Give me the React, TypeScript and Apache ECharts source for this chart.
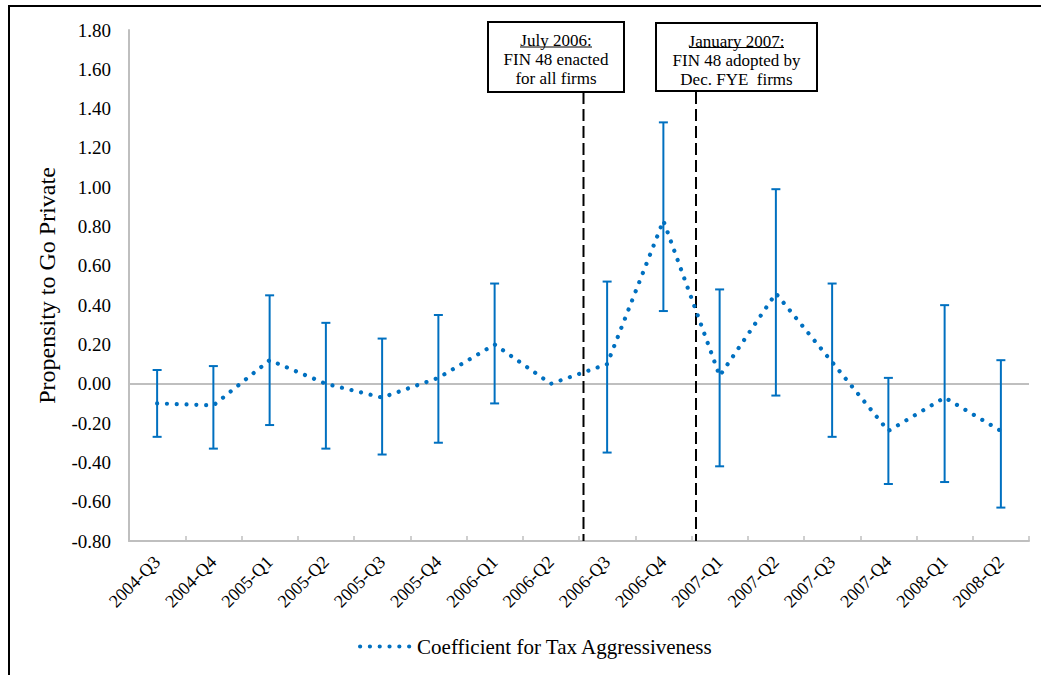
import React, { useEffect, useRef } from "react";
import * as echarts from "echarts";

const quarters = [
  "2004-Q3", "2004-Q4", "2005-Q1", "2005-Q2", "2005-Q3", "2005-Q4",
  "2006-Q1", "2006-Q2", "2006-Q3", "2006-Q4", "2007-Q1", "2007-Q2",
  "2007-Q3", "2007-Q4", "2008-Q1", "2008-Q2",
];
const coefficient = [-0.10, -0.11, 0.12, 0.00, -0.07, 0.03, 0.20, 0.00, 0.10, 0.83, 0.04, 0.46, 0.11, -0.24, -0.07, -0.24];
const upperBound = [0.07, 0.09, 0.45, 0.31, 0.23, 0.35, 0.51, null, 0.52, 1.33, 0.48, 0.99, 0.51, 0.03, 0.40, 0.12];
const lowerBound = [-0.27, -0.33, -0.21, -0.33, -0.36, -0.30, -0.10, null, -0.35, 0.37, -0.42, -0.06, -0.27, -0.51, -0.50, -0.63];
const yMin = -0.8;
const yMax = 1.8;
const yStep = 0.2;
// event dates, in category units (0 = centre of first quarter)
const eventPositions = [7.58, 9.58];
const eventLineTop = 1.485;
const seriesName = "Coefficient for Tax Aggressiveness";
const yAxisTitle = "Propensity to Go Private";
const eventBoxes = [
  { title: "July 2006:", lines: ["FIN 48 enacted", "for all firms"] },
  { title: "January 2007:", lines: ["FIN 48 adopted by", "Dec. FYE  firms"] },
];

const BLUE = "#0070C0";
const GRAY = "#BFBFBF";
const FONT = "Liberation Serif";

export default function App() {
  const ref = useRef<HTMLDivElement>(null);
  useEffect(() => {
    document.body.style.margin = "0";
    if (!ref.current) return;
    const chart = echarts.init(ref.current, null, { renderer: "svg" });

    const errorData = quarters
      .map((q, i) => [i, lowerBound[i], upperBound[i]])
      .filter((d) => d[1] != null && d[2] != null);

    const boxGeom = [
      { x: 488, y: 22, w: 136, h: 70, cy: 59, ux: 520, uw: 72, uy: 47 },
      { x: 656, y: 23, w: 161, h: 68, cy: 60.5, ux: 689, uw: 95, uy: 47.5 },
    ];

    const graphics: any[] = [
      { type: "line", shape: { x1: 8, y1: 6, x2: 1041, y2: 6 }, style: { stroke: "#000", lineWidth: 2 }, z: 100 },
      { type: "line", shape: { x1: 9, y1: 5, x2: 9, y2: 675 }, style: { stroke: "#000", lineWidth: 2 }, z: 100 },
    ];
    eventBoxes.forEach((b, k) => {
      const g = boxGeom[k];
      graphics.push({
        type: "rect",
        shape: { x: g.x, y: g.y, width: g.w, height: g.h },
        style: { fill: "#fff", stroke: "#000", lineWidth: 2 },
        z: 100,
      });
      graphics.push({
        type: "text",
        x: g.x + g.w / 2,
        y: g.cy,
        style: {
          text: [b.title, ...b.lines].join("\n"),
          fontFamily: FONT,
          fontSize: 17,
          fill: "#000",
          align: "center",
          verticalAlign: "middle",
          lineHeight: 19,
        },
        z: 101,
      });
      graphics.push({
        type: "line",
        shape: { x1: g.ux, y1: g.uy, x2: g.ux + g.uw, y2: g.uy },
        style: { stroke: "#000", lineWidth: 1 },
        z: 101,
      });
    });

    chart.setOption({
      animation: false,
      backgroundColor: "#fff",
      textStyle: { fontFamily: FONT },
      grid: { left: 129, right: 12, top: 30, bottom: 134, containLabel: false },
      legend: {
        data: [seriesName],
        left: 358,
        top: 636,
        padding: 0,
        itemWidth: 52,
        itemHeight: 14,
        textStyle: { fontFamily: FONT, fontSize: 21, color: "#000" },
        itemStyle: { color: "rgba(0,0,0,0)", borderColor: "rgba(0,0,0,0)", borderWidth: 0, opacity: 0 },
        lineStyle: { width: 4.2, type: [0.01, 9.8], cap: "round", color: BLUE, opacity: 1 },
      },
      xAxis: [
        {
          type: "category",
          data: quarters,
          boundaryGap: true,
          axisLine: { show: true, onZero: false, lineStyle: { color: GRAY, width: 2 } },
          axisTick: { show: true, inside: true, length: 5, lineStyle: { color: GRAY, width: 1.5 } },
          axisLabel: {
            interval: 0,
            rotate: 45,
            margin: 18,
            padding: [14, 0, 0, 0],
            fontFamily: FONT,
            fontSize: 18,
            color: "#000",
          },
          splitLine: { show: false },
        },
        {
          type: "value",
          min: -0.5,
          max: 15.5,
          show: false,
          axisLine: { onZero: false },
          splitLine: { show: false },
        },
      ],
      yAxis: {
        type: "value",
        min: yMin,
        max: yMax,
        interval: yStep,
        name: yAxisTitle,
        nameLocation: "middle",
        nameGap: 70,
        nameRotate: 90,
        nameTextStyle: { fontFamily: FONT, fontSize: 24, color: "#000" },
        axisLine: { show: true, onZero: false, lineStyle: { color: GRAY, width: 2 } },
        axisTick: { show: false },
        splitLine: { show: false },
        axisLabel: {
          margin: 18,
          fontFamily: FONT,
          fontSize: 19,
          color: "#000",
          formatter: (v: number) => v.toFixed(2),
        },
      },
      series: [
        {
          type: "custom",
          name: "errorBars",
          xAxisIndex: 0,
          yAxisIndex: 0,
          z: 2,
          data: errorData,
          renderItem: (params: any, api: any) => {
            const x = api.value(0);
            const lo = api.coord([x, api.value(1)]);
            const hi = api.coord([x, api.value(2)]);
            const hw = 4.5;
            const st = { stroke: BLUE, lineWidth: 2 };
            return {
              type: "group",
              children: [
                { type: "line", shape: { x1: lo[0], y1: lo[1], x2: hi[0], y2: hi[1] }, style: st },
                { type: "line", shape: { x1: hi[0] - hw, y1: hi[1], x2: hi[0] + hw, y2: hi[1] }, style: st },
                { type: "line", shape: { x1: lo[0] - hw, y1: lo[1], x2: lo[0] + hw, y2: lo[1] }, style: st },
              ],
            };
          },
        },
        {
          type: "custom",
          name: "events",
          xAxisIndex: 1,
          yAxisIndex: 0,
          z: 3,
          data: eventPositions.map((p) => [p, eventLineTop, yMin]),
          renderItem: (params: any, api: any) => {
            const x = api.value(0);
            const top = api.coord([x, api.value(1)]);
            const bot = api.coord([x, api.value(2)]);
            return {
              type: "line",
              shape: { x1: top[0], y1: top[1], x2: bot[0], y2: bot[1] },
              style: { stroke: "#000", lineWidth: 2, lineDash: [12, 5] },
            };
          },
        },
        {
          type: "line",
          name: seriesName,
          xAxisIndex: 0,
          yAxisIndex: 0,
          z: 4,
          data: coefficient,
          symbol: "none",
          showSymbol: false,
          lineStyle: { color: BLUE, width: 4.2, type: [0.01, 9.8], cap: "round" },
          itemStyle: { color: BLUE },
          markLine: {
            silent: true,
            symbol: "none",
            label: { show: false },
            lineStyle: { color: GRAY, width: 2, type: "solid" },
            data: [{ yAxis: 0 }],
            z: 1,
          },
        },
      ],
      graphic: graphics,
    });
    return () => chart.dispose();
  }, []);
  return <div ref={ref} style={{ width: 1041, height: 675 }} />;
}
